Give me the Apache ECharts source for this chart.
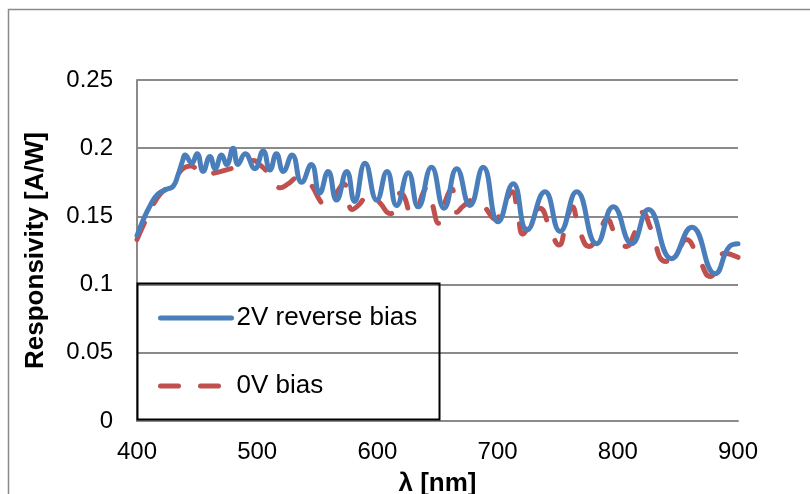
<!DOCTYPE html>
<html>
<head>
<meta charset="utf-8">
<script src="https://cdn.jsdelivr.net/npm/echarts@6/dist/echarts.min.js"></script>
<style>
  html, body { margin: 0; padding: 0; background: #fff; }
  #chart { width: 810px; height: 494px; }
</style>
</head>
<body>
<div id="chart"></div>
<script>
// 2V reverse bias (wavelength nm, responsivity A/W)
var reverseX = [400, 405, 411, 417, 425, 430, 434, 438, 440, 445.5, 450, 455, 460.7, 465, 470.4, 474.6, 480, 484, 490, 498, 505, 510.6, 516, 521.7, 529, 537, 545, 552, 559, 566, 574.5, 581, 589.7, 599.5, 608, 616, 625.7, 634, 645, 655.5, 666, 677, 688, 700.5, 713, 724.5, 739.4, 752, 765.8, 782.4, 796.3, 811.6, 825.4, 844.8, 861.5, 881, 893, 900]
var reverseY = [0.136, 0.147, 0.158, 0.166, 0.170, 0.172, 0.180, 0.191, 0.195, 0.189, 0.196, 0.183, 0.194, 0.185, 0.195, 0.188, 0.200, 0.188, 0.196, 0.185, 0.198, 0.184, 0.196, 0.183, 0.195, 0.175, 0.188, 0.167, 0.183, 0.162, 0.183, 0.161, 0.189, 0.162, 0.183, 0.158, 0.182, 0.157, 0.186, 0.156, 0.185, 0.158, 0.186, 0.146, 0.174, 0.140, 0.168, 0.139, 0.168, 0.130, 0.157, 0.130, 0.155, 0.119, 0.142, 0.108, 0.128, 0.130]

// 0V bias
var zeroX = [400, 405, 410, 415, 420, 425, 430, 435, 440, 445, 450, 455, 460, 465, 470, 478, 485, 492, 497, 502, 508, 513, 519, 526, 533, 539, 545, 552, 557, 563, 568, 572, 579, 584, 590, 595, 602, 611, 614, 619, 622, 629, 633, 637, 641, 645, 651, 656, 662, 666, 672, 682, 690, 698, 705, 712, 717, 721, 728, 735, 744, 751, 757, 762, 768, 776, 784, 791, 798, 807, 814, 821, 827, 840, 850, 857, 866, 877, 889, 900]
var zeroY = [0.133, 0.143, 0.152, 0.161, 0.167, 0.171, 0.176, 0.182, 0.186, 0.187, 0.184, 0.181, 0.181, 0.182, 0.183, 0.185, 0.187, 0.190, 0.191, 0.188, 0.183, 0.177, 0.171, 0.174, 0.178, 0.178, 0.173, 0.162, 0.157, 0.163, 0.170, 0.174, 0.155, 0.158, 0.164, 0.166, 0.160, 0.152, 0.155, 0.167, 0.165, 0.151, 0.153, 0.165, 0.171, 0.161, 0.145, 0.160, 0.170, 0.153, 0.158, 0.163, 0.156, 0.148, 0.158, 0.168, 0.150, 0.137, 0.148, 0.156, 0.140, 0.129, 0.145, 0.157, 0.140, 0.128, 0.137, 0.148, 0.137, 0.128, 0.138, 0.153, 0.142, 0.117, 0.125, 0.133, 0.122, 0.106, 0.123, 0.120]

var xTicks = [400, 500, 600, 700, 800, 900]
var yTicks = [0, 0.05, 0.1, 0.15, 0.2, 0.25]

var blue = '#4a7ebb'
var red = '#c0504d'
var redDash = [18, 22]

function pairs(xs, ys) {
  var out = []
  for (var i = 0; i < xs.length; i++) out.push([xs[i], ys[i]])
  return out
}

var chart = echarts.init(document.getElementById('chart'))
var font = '"Liberation Sans", Arial, sans-serif'
chart.setOption({
  animation: false,
  textStyle: { fontFamily: font },
  graphic: [
    {
      type: 'rect',
      shape: { x: 8.5, y: 9.5, width: 900, height: 600 },
      style: { fill: 'none', stroke: '#8a8a8a', lineWidth: 1.5 },
      silent: true
    },
    {
      type: 'rect',
      z: 10,
      shape: { x: 137.5, y: 283.5, width: 302, height: 136 },
      style: { fill: 'none', stroke: '#000', lineWidth: 2 },
      silent: true
    }
  ],
  legend: {
    orient: 'vertical',
    left: 158,
    top: 305,
    itemWidth: 71,
    itemHeight: 26,
    itemGap: 42,
    itemTextGap: 7,
    padding: 0,
    textStyle: { fontSize: 26, color: '#000', fontFamily: font },
    data: [
      {
        name: '2V reverse bias',
        itemStyle: { opacity: 0 },
        lineStyle: { width: 5, color: blue, cap: 'round' }
      },
      {
        name: '0V bias',
        itemStyle: { opacity: 0 },
        lineStyle: { width: 5, color: red, type: redDash, cap: 'round' }
      }
    ]
  },
  grid: { left: 137, right: 72, top: 80, bottom: 73, outerBoundsMode: 'none' },
  xAxis: {
    type: 'value',
    min: 400,
    max: 900,
    interval: 100,
    name: 'λ [nm]',
    nameLocation: 'middle',
    nameGap: 50,
    nameTextStyle: { fontSize: 26, fontWeight: 'bold', color: '#000' },
    axisLine: { lineStyle: { color: '#8a8a8a', width: 2 } },
    axisTick: { show: false },
    axisLabel: {
      fontSize: 24, color: '#000', margin: 19,
      formatter: function (v) { return xTicks.indexOf(v) >= 0 ? String(v) : '' }
    },
    splitLine: { show: false }
  },
  yAxis: {
    type: 'value',
    min: 0,
    max: 0.25,
    interval: 0.05,
    name: 'Responsivity [A/W]',
    nameLocation: 'middle',
    nameGap: 88,
    nameTextStyle: { fontSize: 26, fontWeight: 'bold', color: '#000' },
    axisLine: { show: true, lineStyle: { color: '#8a8a8a', width: 2 } },
    axisTick: { show: false },
    axisLabel: {
      fontSize: 24, color: '#000', margin: 24,
      formatter: function (v) {
        for (var i = 0; i < yTicks.length; i++) {
          if (Math.abs(yTicks[i] - v) < 1e-9) return String(yTicks[i])
        }
        return ''
      }
    },
    splitLine: { show: true, lineStyle: { color: '#8a8a8a', width: 2 } }
  },
  series: [
    {
      name: '2V reverse bias',
      type: 'line',
      symbol: 'none',
      smooth: 0.5,
      z: 3,
      color: blue,
      lineStyle: { color: blue, width: 5, cap: 'round', join: 'round' },
      data: pairs(reverseX, reverseY)
    },
    {
      name: '0V bias',
      type: 'line',
      symbol: 'none',
      smooth: 0.5,
      z: 2,
      color: red,
      lineStyle: { color: red, width: 5, type: redDash, cap: 'round' },
      data: pairs(zeroX, zeroY)
    }
  ]
})
</script>
</body>
</html>
